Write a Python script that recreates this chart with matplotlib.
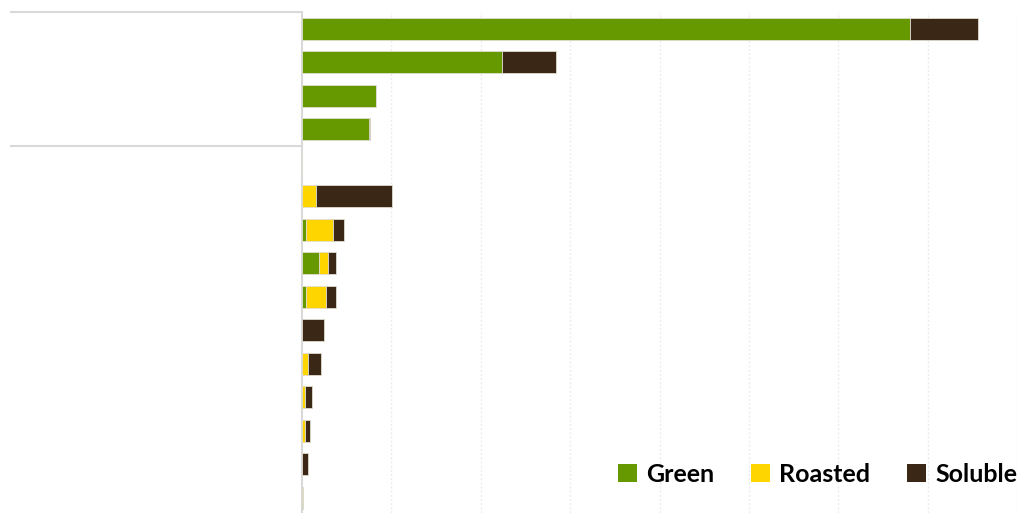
import matplotlib.pyplot as plt
from matplotlib.patches import Patch
import matplotlib.transforms as mtransforms
import numpy as np

# rows top to bottom; row 4 is the empty spacer between the two groups
rows = list(range(15))
green = [6.80, 2.24, 0.83, 0.75, 0, 0, 0.045, 0.19, 0.045, 0, 0, 0, 0, 0, 0.01]
roasted = [0, 0, 0, 0, 0, 0.16, 0.30, 0.10, 0.22, 0, 0.065, 0.035, 0.035, 0, 0]
soluble = [0.76, 0.60, 0, 0.01, 0, 0.85, 0.12, 0.09, 0.11, 0.25, 0.145, 0.075, 0.05, 0.07, 0]
series_names = ["Green", "Roasted", "Soluble"]

colors = ["#669900", "#FFD500", "#3A2716"]
W, H = 1020, 513

fig = plt.figure(figsize=(W / 100, H / 100), dpi=100)
ax = fig.add_axes([302 / W, 0, 715 / W, 1 - 12 / H])

green = np.array(green)
roasted = np.array(roasted)
soluble = np.array(soluble)
y = np.array(rows)

ax.barh(y, green, height=0.66, color=colors[0], edgecolor="#e0dccf", linewidth=0.6, zorder=3)
ax.barh(y, roasted, left=green, height=0.66, color=colors[1], edgecolor="#e0dccf", linewidth=0.6, zorder=3)
ax.barh(y, soluble, left=green + roasted, height=0.66, color=colors[2], edgecolor="#e0dccf", linewidth=0.6, zorder=3)

ax.set_xlim(0, 8)
ax.set_ylim((H - 12) / 33.5 - 0.5, -0.5)
ax.set_xticks(range(1, 9))
ax.set_yticks([])
ax.tick_params(axis="x", length=0, labelbottom=False)
ax.grid(axis="x", color="#ececec", linestyle=(0, (1.5, 1.5)), linewidth=1, zorder=0)

for s in ["top", "right", "bottom"]:
    ax.spines[s].set_visible(False)
ax.spines["left"].set_color("#d9d9d9")
ax.spines["left"].set_linewidth(1.5)

# group separator lines in the label area
trans = mtransforms.blended_transform_factory(ax.transAxes, ax.transData)
x0 = (11 - 302) / 715
for yy in [-0.5, 3.5]:
    ax.plot([x0, 0], [yy, yy], color="#d9d9d9", linewidth=1.5, transform=trans, clip_on=False)

handles = [Patch(facecolor=c, edgecolor="none") for c in colors]
fig.legend(handles, series_names, loc="center right", bbox_to_anchor=(1017 / W, 1 - 474 / H),
           ncol=3, frameon=False, borderpad=0, borderaxespad=0,
           handlelength=0.75, handleheight=0.75, handletextpad=0.35,
           columnspacing=1.5, prop={"family": "Lato", "weight": "bold", "size": 18})

fig.savefig("out.png", dpi=100)
